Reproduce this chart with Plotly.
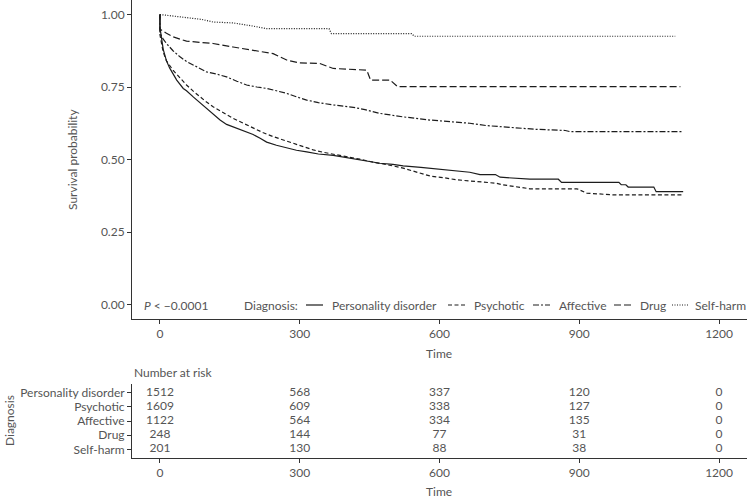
import plotly.graph_objects as go

# ---------------- data ----------------
diagnoses = ["Personality disorder", "Psychotic", "Affective", "Drug", "Self-harm"]

pd_time = [0, 0, 7, 14, 21, 28, 36, 50, 57, 72, 86, 100, 114, 129, 143, 165, 186, 200, 215, 229, 250, 272,
           293, 315, 340, 372, 400, 429, 451, 472, 500, 522, 560, 594, 630, 665, 687, 720, 730, 794, 855, 862,
           985, 990, 1000, 1005, 1060, 1065, 1123]
pd_surv = [1.0, 0.955, 0.88, 0.84, 0.815, 0.795, 0.774, 0.745, 0.737, 0.715, 0.696, 0.674, 0.655, 0.636, 0.621,
           0.608, 0.597, 0.586, 0.573, 0.560, 0.549, 0.539, 0.532, 0.526, 0.519, 0.514, 0.506, 0.499, 0.491,
           0.487, 0.483, 0.478, 0.473, 0.468, 0.462, 0.456, 0.448, 0.448, 0.439, 0.432, 0.432, 0.421,
           0.421, 0.413, 0.413, 0.405, 0.405, 0.389, 0.389]

ps_time = [0, 0, 7, 14, 28, 43, 57, 72, 86, 100, 114, 136, 157, 179, 200, 222, 243, 265, 286, 308, 329, 350,
           372, 400, 429, 451, 472, 500, 522, 550, 580, 610, 637, 680, 723, 735, 794, 895, 916, 973, 1123]
ps_surv = [1.0, 0.93, 0.87, 0.84, 0.808, 0.78, 0.757, 0.735, 0.716, 0.698, 0.682, 0.66, 0.642, 0.625, 0.608,
           0.592, 0.579, 0.567, 0.556, 0.544, 0.533, 0.525, 0.519, 0.51, 0.501, 0.493, 0.487, 0.478, 0.470,
           0.458, 0.443, 0.437, 0.430, 0.424, 0.418, 0.413, 0.399, 0.399, 0.384, 0.378, 0.378]

af_time = [0, 0, 7, 14, 28, 43, 57, 72, 86, 100, 120, 143, 165, 186, 208, 229, 250, 272, 293, 315, 340, 372,
           415, 440, 472, 522, 580, 620, 665, 700, 751, 808, 870, 880, 1121]
af_surv = [1.0, 0.935, 0.915, 0.900, 0.875, 0.854, 0.838, 0.825, 0.812, 0.802, 0.795, 0.785, 0.77, 0.757,
           0.750, 0.745, 0.737, 0.728, 0.716, 0.705, 0.696, 0.688, 0.680, 0.672, 0.659, 0.647, 0.636, 0.630,
           0.625, 0.617, 0.610, 0.604, 0.600, 0.596, 0.596]

dr_time = [0, 0, 14, 28, 57, 114, 157, 200, 243, 272, 300, 343, 360, 372, 444, 452, 494, 510, 1117]
dr_surv = [1.0, 0.95, 0.935, 0.923, 0.908, 0.900, 0.888, 0.877, 0.865, 0.843, 0.833, 0.831, 0.82, 0.814,
           0.808, 0.774, 0.774, 0.751, 0.751]

sh_time = [0, 30, 57, 90, 114, 157, 200, 229, 363, 368, 540, 546, 1106]
sh_surv = [1.0, 0.995, 0.991, 0.983, 0.974, 0.971, 0.960, 0.951, 0.951, 0.934, 0.934, 0.925, 0.925]

risk_times = [0, 300, 600, 900, 1200]
risk_pd = [1512, 568, 337, 120, 0]
risk_ps = [1609, 609, 338, 127, 0]
risk_af = [1122, 564, 334, 135, 0]
risk_dr = [248, 144, 77, 31, 0]
risk_sh = [201, 130, 88, 38, 0]

x_ticks = [0, 300, 600, 900, 1200]
y_ticks = [0, 0.25, 0.5, 0.75, 1.0]
y_ticktext = ["0.00", "0.25", "0.50", "0.75", "1.00"]

# ---------------- styling ----------------
W, H = 747, 500
FONT = "Lato"
TXT = "#555555"
AX = "#333333"
LINE = "#1c1c1c"
FS = 12.0

dashes = ["solid", "4px,2.5px", "6px,2px,2px,2px", "7px,3px", "1px,1.5px"]
curves = list(zip(diagnoses, [pd_time, ps_time, af_time, dr_time, sh_time],
                  [pd_surv, ps_surv, af_surv, dr_surv, sh_surv], dashes))

fig = go.Figure()
for name, t, s, dash in curves:
    fig.add_trace(go.Scatter(x=t, y=s, mode="lines", name=name,
                             line=dict(color=LINE, width=1.2, dash=dash),
                             xaxis="x", yaxis="y", showlegend=False))

risk_rows = [risk_pd, risk_ps, risk_af, risk_dr, risk_sh]
for name, row in zip(diagnoses, risk_rows):
    fig.add_trace(go.Scatter(x=risk_times, y=[name] * len(risk_times), mode="text",
                             text=[str(v) for v in row], textposition="middle center",
                             textfont=dict(family=FONT, size=FS, color=TXT),
                             xaxis="x2", yaxis="y2", showlegend=False, hoverinfo="skip"))

def py(px):
    return 1 - px / H

def px_(x):
    return x / W

x_dom = [132 / W, 1.0]
common_x = dict(range=[-60, 1260], tickvals=x_ticks, ticks="outside", ticklen=4, tickcolor=AX,
                showline=True, linecolor=AX, linewidth=1, showgrid=False, zeroline=False,
                tickfont=dict(family=FONT, size=FS, color=TXT), domain=x_dom)

fig.update_layout(
    width=W, height=H,
    margin=dict(l=0, r=0, t=0, b=0, autoexpand=False),
    paper_bgcolor="white", plot_bgcolor="white",
    font=dict(family=FONT, size=FS, color=TXT),
    xaxis=dict(anchor="y", **common_x),
    yaxis=dict(domain=[py(319), 1.0], range=[-0.05, 1.05], tickvals=y_ticks, ticktext=y_ticktext,
               ticks="outside", ticklen=4, tickcolor=AX, showline=True, linecolor=AX, linewidth=1,
               showgrid=False, zeroline=False, tickfont=dict(family=FONT, size=FS, color=TXT),
               anchor="x"),
    xaxis2=dict(anchor="y2", **common_x),
    yaxis2=dict(domain=[py(458), py(384)], type="category", categoryorder="array",
                categoryarray=diagnoses[::-1], range=[-0.6, 4.6], ticks="outside", ticklen=4,
                tickmode="array", tickvals=diagnoses, ticktext=diagnoses,
                tickcolor=AX, showline=True, linecolor=AX, linewidth=1, showgrid=False,
                zeroline=False, tickfont=dict(family=FONT, size=FS, color=TXT), anchor="x2"),
    showlegend=False,
)

annots = [
    dict(text="Survival probability", x=px_(72), y=py(160), textangle=-90),
    dict(text="Time", x=px_(439), y=py(353)),
    dict(text="Time", x=px_(439), y=py(491)),
    dict(text="Number at risk", x=px_(132), y=py(372), xanchor="left"),
    dict(text="Diagnosis", x=px_(9), y=py(421), textangle=-90),
    dict(text="<i>P</i> < \u22120.0001", x=px_(142), y=py(305), xanchor="left"),
    dict(text="Diagnosis:", x=px_(242), y=py(305), xanchor="left"),
]

# manual legend (inside the plot, bottom row)
leg_line_x = [306, 448, 533, 614, 672]
leg_text_x = [330, 472, 557, 638, 693]
for name, dash, lx, tx in zip(diagnoses, dashes, leg_line_x, leg_text_x):
    fig.add_shape(type="line", xref="paper", yref="paper", x0=px_(lx), x1=px_(lx + 17),
                  y0=py(305), y1=py(305), line=dict(color=LINE, width=1.2, dash=dash))
    annots.append(dict(text=name, x=px_(tx), y=py(305), xanchor="left"))

for a in annots:
    a.setdefault("xanchor", "center")
    fig.add_annotation(xref="paper", yref="paper", showarrow=False, yanchor="middle",
                       font=dict(family=FONT, size=FS, color=TXT), **a)

fig.write_html("out.html", config={"displayModeBar": False},
               post_script="document.body.style.margin='0';")
